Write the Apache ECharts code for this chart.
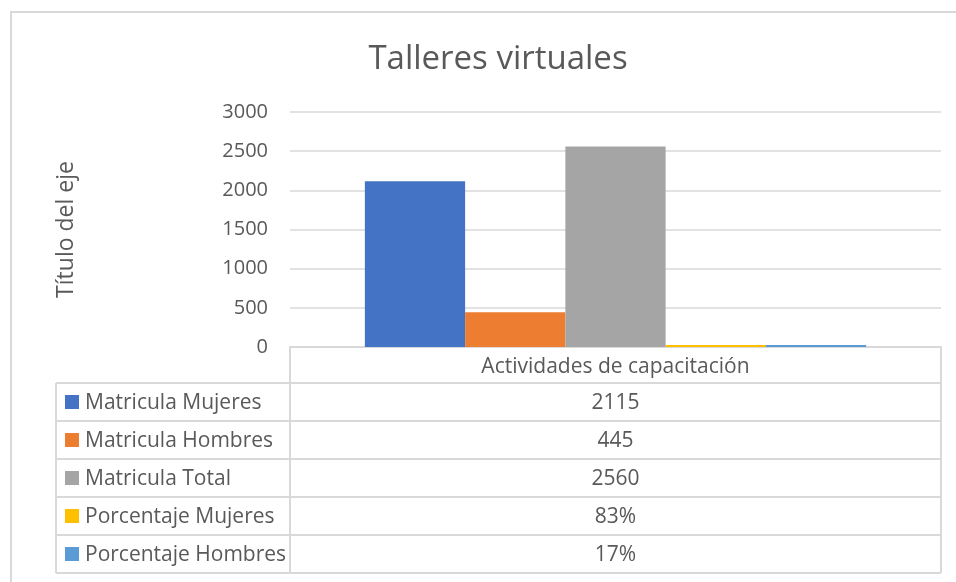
<!DOCTYPE html>
<html>
<head>
<meta charset="utf-8">
<title>Talleres virtuales</title>
<script src="https://cdn.jsdelivr.net/npm/echarts@6/dist/echarts.min.js"></script>
<style>
  html, body { margin: 0; padding: 0; background: #fff; }
  #chart { width: 956px; height: 582px; }
</style>
</head>
<body>
<div id="chart"></div>
<script>
// datos del grafico
var categories = ['Actividades de capacitación']
var seriesNames = ['Matricula Mujeres', 'Matricula Hombres', 'Matricula Total', 'Porcentaje Mujeres', 'Porcentaje Hombres']
var matriculaMujeres = [2115]
var matriculaHombres = [445]
var matriculaTotal = [2560]
var porcentajeMujeres = [0.83]
var porcentajeHombres = [0.17]
var yTicks = [0, 500, 1000, 1500, 2000, 2500, 3000]

var seriesData = [matriculaMujeres, matriculaHombres, matriculaTotal, porcentajeMujeres, porcentajeHombres]
var colors = ['#4472C4', '#ED7D31', '#A5A5A5', '#FFC000', '#5B9BD5']
var textColor = '#595959'
var lineColor = '#d9d9d9'
var fontFamily = '"Open Sans", "Noto Sans", sans-serif'
var tableFont = '21px ' + fontFamily

// layout de la tabla de datos
var tableLeft = 56
var colX = 290
var tableRight = 941
var headerTop = 347
var headerH = 36
var rowH = 38

function formatValue(v) {
  // los porcentajes vienen como fraccion
  return v < 1 ? Math.round(v * 100) + '%' : String(v)
}

function buildTable() {
  var els = []
  var rowsTop = headerTop + headerH
  var bottom = rowsTop + rowH * seriesNames.length
  var line = function (x1, y1, x2, y2) {
    els.push({
      type: 'line',
      silent: true,
      shape: { x1: x1, y1: y1, x2: x2, y2: y2 },
      style: { stroke: lineColor, lineWidth: 2 },
    })
  }
  // marco de la tabla
  line(colX, headerTop, colX, bottom)
  line(tableRight, headerTop, tableRight, bottom)
  line(tableLeft, rowsTop, tableLeft, bottom)
  for (var i = 0; i <= seriesNames.length; i++) {
    line(tableLeft, rowsTop + i * rowH, tableRight, rowsTop + i * rowH)
  }
  // encabezado con la categoria
  els.push({
    type: 'text',
    silent: true,
    x: (colX + tableRight) / 2,
    y: headerTop + headerH / 2 + 2,
    style: {
      text: categories[0],
      fill: textColor,
      font: tableFont,
      textAlign: 'center',
      textVerticalAlign: 'middle',
    },
  })
  seriesNames.forEach(function (name, i) {
    var cy = rowsTop + i * rowH + rowH / 2
    els.push({
      type: 'rect',
      silent: true,
      shape: { x: 65, y: cy - 7, width: 14, height: 14 },
      style: { fill: colors[i] },
    })
    els.push({
      type: 'text',
      silent: true,
      x: 85,
      y: cy + 1,
      style: {
        text: name,
        fill: textColor,
        font: tableFont,
        textVerticalAlign: 'middle',
      },
    })
    els.push({
      type: 'text',
      silent: true,
      x: (colX + tableRight) / 2,
      y: cy + 1,
      style: {
        text: formatValue(seriesData[i][0]),
        fill: textColor,
        font: tableFont,
        textAlign: 'center',
        textVerticalAlign: 'middle',
      },
    })
  })
  return els
}

var chart = echarts.init(document.getElementById('chart'))
chart.setOption({
  backgroundColor: '#fff',
  animation: false,
  textStyle: { fontFamily: fontFamily },
  title: {
    text: 'Talleres virtuales',
    left: 493,
    textAlign: 'center',
    top: 38,
    textStyle: { fontSize: 33, fontWeight: 'normal', color: textColor, fontFamily: fontFamily },
  },
  grid: {
    left: colX,
    right: 956 - tableRight,
    top: 112,
    bottom: 582 - headerTop,
  },
  xAxis: {
    type: 'category',
    data: categories,
    axisLine: { show: true, lineStyle: { color: lineColor, width: 2 } },
    axisTick: { show: false },
    axisLabel: { show: false },
  },
  yAxis: {
    type: 'value',
    min: yTicks[0],
    max: yTicks[yTicks.length - 1],
    interval: yTicks[1] - yTicks[0],
    name: 'Título del eje',
    nameLocation: 'middle',
    nameRotate: 90,
    nameGap: 212,
    nameTextStyle: { fontSize: 23, color: textColor, fontFamily: fontFamily },
    axisLine: { show: false },
    axisTick: { show: false },
    axisLabel: {
      fontSize: 20,
      color: textColor,
      margin: 22,
      fontFamily: fontFamily,
      formatter: function (v) { return String(v) },
    },
    splitLine: { lineStyle: { color: lineColor, width: 1.5 } },
  },
  series: seriesNames.map(function (name, i) {
    return {
      name: name,
      type: 'bar',
      data: seriesData[i],
      barGap: 0,
      barCategoryGap: '23%',
      barMinHeight: 2,
      itemStyle: { color: colors[i] },
    }
  }),
  graphic: [
    {
      type: 'rect',
      silent: true,
      shape: { x: 11, y: 12, width: 980, height: 620 },
      style: { fill: 'none', stroke: lineColor, lineWidth: 2 },
    },
  ].concat(buildTable()),
})
</script>
</body>
</html>
